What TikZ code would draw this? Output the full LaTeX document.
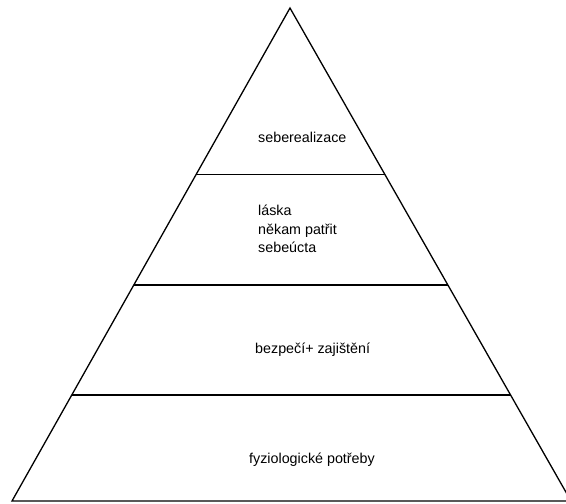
\documentclass[tikz,border=0pt]{standalone}
\usepackage{fontspec}
\setmainfont{Liberation Sans}
\usetikzlibrary{calc}
\tikzset{
  edge/.style={line width=1.3pt, black},
  lbl/.style={font=\fontsize{14.3}{18.5}\selectfont, inner sep=0pt, align=left, text=black}
}
\begin{document}
\begin{tikzpicture}[x=1pt,y=-1pt]
\clip (0,0) rectangle (566,504);
\fill[white] (0,0) rectangle (566,504);
\coordinate (apex) at (290,8);
\coordinate (bl) at (12,501);
\coordinate (br) at (571,501);
% level points (t = (y-8)/493)
\coordinate (l1) at ($(apex)!0.3377!(bl)$);
\coordinate (r1) at ($(apex)!0.3377!(br)$);
\coordinate (l2) at ($(apex)!0.5619!(bl)$);
\coordinate (r2) at ($(apex)!0.5619!(br)$);
\coordinate (l3) at ($(apex)!0.7850!(bl)$);
\coordinate (r3) at ($(apex)!0.7850!(br)$);
\draw[edge, line join=miter] (apex) -- (bl) -- (br) -- cycle;
\draw[edge] (l1) -- (r1);
\draw[edge] (l2) -- (r2);
\draw[edge] (l3) -- (r3);
\node[lbl, anchor=west] (top) at (258,137) {seberealizace};
\node[lbl, anchor=west] (mid) at (258,229) {láska\\někam patřit\\sebeúcta};
\node[lbl, anchor=west] (safe) at (255,350) {bezpečí+ zajištění};
\node[lbl, anchor=west] (phys) at (249,460) {fyziologické potřeby};
\end{tikzpicture}
\end{document}
